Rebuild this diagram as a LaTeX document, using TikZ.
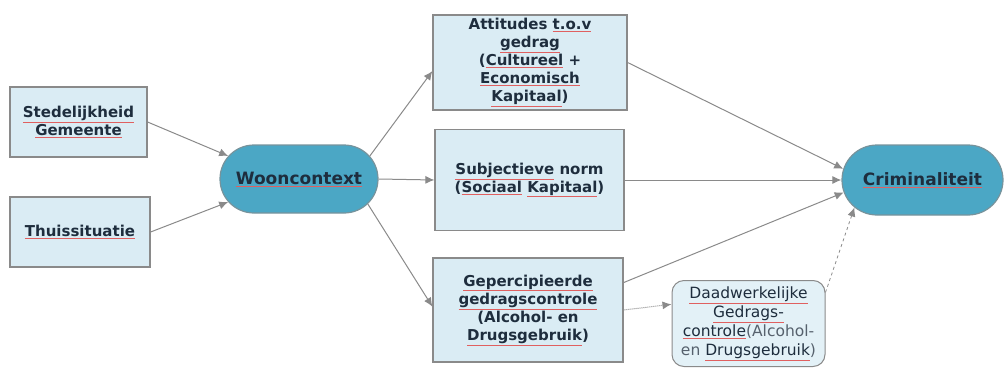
\documentclass[tikz,border=0pt]{standalone}
\usepackage{fontspec}
\setsansfont{DejaVu Sans}
\usepackage{tikz}
\usetikzlibrary{arrows.meta}
\usetikzlibrary{shapes.misc}

\definecolor{boxfill}{HTML}{DAECF4}
\definecolor{pillfill}{HTML}{4BA7C5}
\definecolor{ink}{HTML}{1E2D3D}
\definecolor{edge}{HTML}{8A8A8A}
\definecolor{squig}{HTML}{E06060}

% spelling underline as in the screenshot
\newcommand{\sq}[1]{{\color{squig}\underline{\color{ink}#1}}}

\begin{document}
\begin{tikzpicture}[x=1pt,y=-1pt,
  box/.style={rectangle,draw=edge,line width=1.2pt,fill=boxfill,text=ink,align=center,inner sep=2pt,font=\sffamily\bfseries\fontsize{15}{18}\selectfont},
  pill/.style={rounded rectangle,draw=edge!70!pillfill,line width=1.2pt,fill=pillfill,text=ink,inner sep=2pt,font=\sffamily\bfseries\fontsize{17}{20}\selectfont},
  arr/.style={draw=edge,line width=1pt,-{Latex[length=9pt,width=8pt]}}]
\useasboundingbox (0,0) rectangle (1007,367);
% left column
\draw (78.5,122) node (sted) [box,minimum width=137,minimum height=70] {\sq{Stedelijkheid}\\\sq{Gemeente}};
\draw (80,232) node (thuis) [box,minimum width=140,minimum height=70] {\sq{Thuissituatie}};
\draw (299,179) node (woon) [pill,minimum width=162,minimum height=68] {\sq{Wooncontext}};
% middle column
\draw (530,62.5) node (att) [box,minimum width=194,minimum height=95] {Attitudes \sq{t.o.v}\\\sq{gedrag}\\(\sq{Cultureel} +\\\sq{Economisch}\\\sq{Kapitaal})};
\draw (529.5,180) node (subj) [box,minimum width=189,minimum height=101] {\sq{Subjectieve} norm\\(\sq{Sociaal} \sq{Kapitaal})};
\draw (528,310) node (gep) [box,minimum width=190,minimum height=104] {\sq{Gepercipieerde}\\\sq{gedragscontrole}\\(Alcohol- en\\\sq{Drugsgebruik})};
\draw (748.5,323.5) node (daad) [rectangle,rounded corners=12,draw=edge,line width=1pt,fill=boxfill!75!white,text=ink!75,align=center,inner sep=2pt,minimum width=153,minimum height=86,font=\sffamily\fontsize{15.5}{19}\selectfont] {\sq{Daadwerkelijke}\\\sq{Gedrags-}\\\sq{controle}(Alcohol-\\en \sq{Drugsgebruik})};
% right
\draw (922.5,180) node (crim) [pill,minimum width=165,minimum height=70] {\sq{Criminaliteit}};
% connectors
\draw [arr] (sted.east) -- (woon.162);
\draw [arr] (thuis.east) -- (woon.198);
\draw [arr] (woon.18) -- (att.185);
\draw [arr] (woon.east) -- (subj.west);
\draw [arr] (woon.-20) -- (gep.178);
\draw [arr] (att.east) -- (crim.172);
\draw [arr] (subj.east) -- (crim.west);
\draw [arr] (gep.16) -- (crim.189);
\draw [arr,densely dotted] (gep.east) -- (daad.166);
\draw [arr,dashed,line width=0.8pt] (daad.22) -- (crim.202);
\end{tikzpicture}
\end{document}
